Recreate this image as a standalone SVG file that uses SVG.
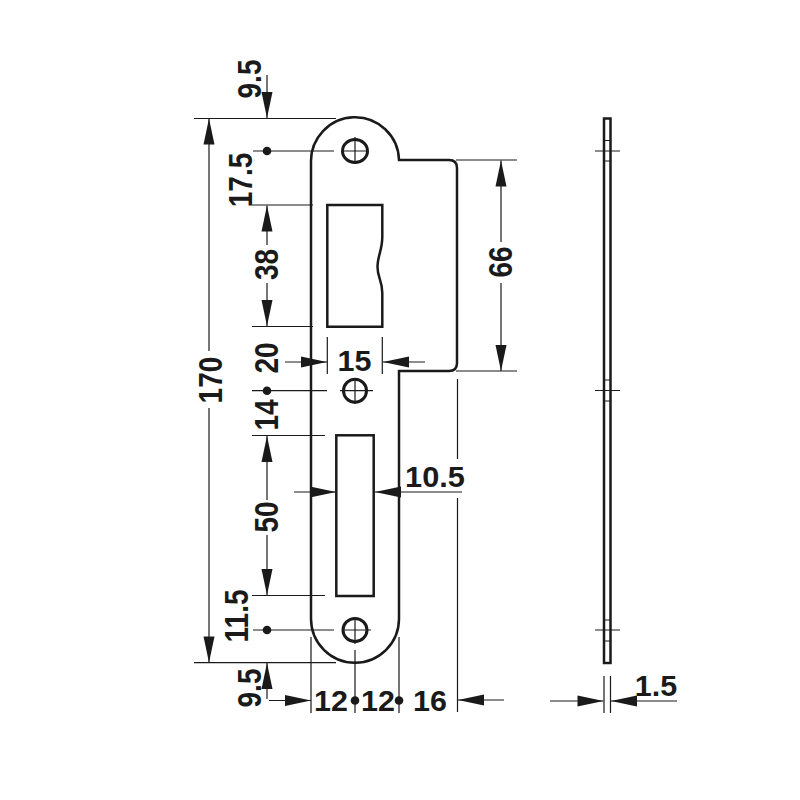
<svg xmlns="http://www.w3.org/2000/svg" width="800" height="800" viewBox="0 0 800 800">
<style>
.o{fill:none;stroke:#1a1a1a;stroke-width:2.500}
.c{fill:none;stroke:#1a1a1a;stroke-width:3}
.l{fill:none;stroke:#1a1a1a;stroke-width:1.200}
.a{fill:none;stroke:#1a1a1a;stroke-width:1.200;marker-end:url(#ah)}
.d{fill:#1a1a1a}
text{font-family:"Liberation Sans",Arial,sans-serif;font-weight:700;fill:#1a1a1a;text-anchor:middle}
.h{font-size:29px}
.v{font-size:33px}
</style>
<defs>
<marker id="ah" markerUnits="userSpaceOnUse" markerWidth="27" markerHeight="12" refX="26" refY="6" orient="auto" overflow="visible"><path d="M0 .5L26 6L0 11.500Z" fill="#1a1a1a"/></marker>
</defs>
<rect width="800" height="800" fill="#fff"/>
<g id="plate">
<path class="o" d="M311 162.500A44 44 0 0 1 399 160H449Q457 160 457 168V363Q457 371 449 371H399V618.700A44 44 0 0 1 311 618.700Z"/>
<path class="o" d="M382.300 237V205H327.300V326.700H382.300V293C382.300 280 377.500 278 377.500 267C377.500 256 382.300 250 382.300 237Z"/>
<rect class="o" x="336.300" y="435.300" width="37.400" height="160.700"/>
</g>
<g id="holes">
<ellipse class="c" cx="355" cy="151" rx="12.500" ry="11.500"/>
<ellipse class="c" cx="355" cy="390.700" rx="11.500" ry="11.500"/>
<ellipse class="c" cx="355" cy="630" rx="12" ry="11.500"/>
<path class="l" d="M355 137V164M342 151H368M355 378V404M340 390.700H373M355 618V644M342 630H371"/>
</g>
<g id="side">
<rect class="o" x="604" y="118.500" width="6.500" height="544.500"/>
<path class="l" d="M595 151H620M595 390.500H620M595 630H620"/>
<path class="l" d="M605 140.500H610M605 161H610M605 380H610M605 401H610M605 620H610M605 641H610"/>
</g>
<g id="connectors">
<path class="l" d="M194 118.500H336M194 662.700H336M456 160H517M456 371H517"/>
<path class="a" d="M267 75V118"/>
<path class="a" d="M209 351V118.500"/>
<path class="a" d="M209 408V662.500"/>
<path class="l" d="M253 151H334M252 205H313M252 326.500H313M252 390.700H327M252 435.500H325M252 595.500H325M253 630H334"/>
<path class="a" d="M267 245V205.500"/>
<path class="a" d="M267 283V326"/>
<path class="a" d="M285 362H327"/>
<path class="a" d="M425 362H383"/>
<path class="l" d="M327.300 337V374M382.300 337V374"/>
<path class="a" d="M267 500V436"/>
<path class="a" d="M267 535V595"/>
<path class="a" d="M294 492H336"/>
<path class="a" d="M462 492H375"/>
<path class="l" d="M457.500 379V459M457.500 498V712"/>
<path class="a" d="M501 242V160.500"/>
<path class="a" d="M501 283V371"/>
<path class="a" d="M267 699V663"/>
<path class="a" d="M269 700.500H311"/>
<path class="a" d="M504 700H458"/>
<path class="l" d="M311 637V713M355 650V713M399 637V713"/>
<path class="l" d="M604 676V713M610.500 676V713"/>
<path class="a" d="M550 701H603.500"/>
<path class="a" d="M677 701H611"/>
<circle class="d" cx="267" cy="151" r="4.300"/>
<circle class="d" cx="267" cy="390.700" r="4.300"/>
<circle class="d" cx="267" cy="630" r="4.300"/>
<circle class="d" cx="355" cy="700.500" r="4.300"/>
<circle class="d" cx="399" cy="700.500" r="4.300"/>
</g>
<g id="labels">
<text class="v" transform="translate(261 79) rotate(-90) scale(.85 1)">9.5</text>
<text class="v" transform="translate(252 180) rotate(-90) scale(.85 1)">17.5</text>
<text class="v" transform="translate(278 264.500) rotate(-90) scale(.85 1)">38</text>
<text class="v" transform="translate(278 358) rotate(-90) scale(.85 1)">20</text>
<text class="v" transform="translate(278 415) rotate(-90) scale(.85 1)">14</text>
<text class="v" transform="translate(278 517) rotate(-90) scale(.85 1)">50</text>
<text class="v" transform="translate(248 616) rotate(-90) scale(.85 1)">11.5</text>
<text class="v" transform="translate(261 688) rotate(-90) scale(.85 1)">9.5</text>
<text class="v" transform="translate(222 380) rotate(-90) scale(.85 1)">170</text>
<text class="v" transform="translate(512 262) rotate(-90) scale(.85 1)">66</text>
<text class="h" transform="translate(354.500 371) scale(1.050 1)">15</text>
<text class="h" transform="translate(435 487) scale(1.060 1)">10.5</text>
<text class="h" transform="translate(331 711) scale(1.050 1)">12</text>
<text class="h" transform="translate(378 711) scale(1.050 1)">12</text>
<text class="h" transform="translate(430 711) scale(1.050 1)">16</text>
<text class="h" transform="translate(656 696) scale(1.050 1)">1.5</text>
</g>
</svg>
